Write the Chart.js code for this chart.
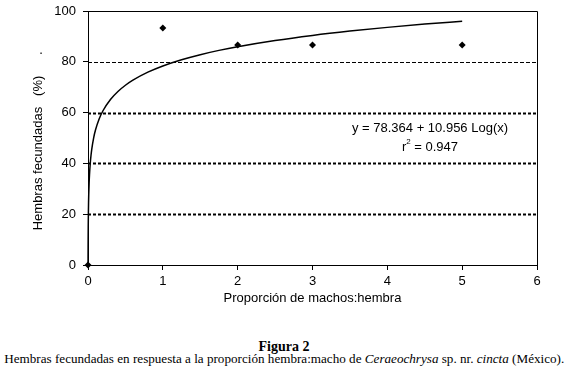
<!DOCTYPE html>
<html>
<head>
<meta charset="utf-8">
<script src="https://cdn.jsdelivr.net/npm/chart.js@4"></script>
<style>
  html, body { margin: 0; padding: 0; background: #fff; }
  #wrap { position: relative; width: 568px; height: 367px; overflow: hidden; }
  #chartBox { position: absolute; left: 0; top: 0; width: 568px; height: 310px; }
  .cap { position: absolute; left: 0; width: 568px; text-align: center; font-family: "Liberation Serif", "Times New Roman", serif; color: #000; white-space: nowrap; }
  #cap1 { top: 339px; font-size: 14px; font-weight: bold; line-height: 16px; }
  #cap2 { top: 351px; font-size: 13px; line-height: 16px; }
  #cap2 span.inner { display: inline-block; transform-origin: center; }
</style>
</head>
<body>
<div id="wrap">
  <div id="chartBox"><canvas id="c" width="568" height="310"></canvas></div>
  <div class="cap" id="cap1">Figura 2</div>
  <div class="cap" id="cap2"><span class="inner" id="cap2in">Hembras fecundadas en respuesta a la proporción hembra:macho de <i>Ceraeochrysa</i> sp. nr. <i>cincta</i> (México).</span></div>
</div>
<script>
// ---- Data ----
const xValues = [0, 1, 2, 3, 5];
const yValues = [0, 93.3, 86.6, 86.6, 86.6];
const xTicks = [0, 1, 2, 3, 4, 5, 6];
const yTicks = [0, 20, 40, 60, 80, 100];
const trendA = 78.364;
const trendB = 10.956;
const trendX = [0.0008, 0.001, 0.0015, 0.002, 0.003, 0.005, 0.0075, 0.01, 0.015, 0.02, 0.03, 0.04, 0.05, 0.075, 0.1, 0.15, 0.2, 0.3, 0.4, 0.5, 0.6, 0.8, 1, 1.25, 1.5, 1.75, 2, 2.5, 3, 3.5, 4, 4.5, 5];
const equationText = "y = 78.364 + 10.956 Log(x)";
const r2Text = "0.947";
const xTitle = "Proporción de machos:hembra";
const yTitle = "Hembras fecundadas   (%)";

const points = xValues.map((x, i) => ({ x: x, y: yValues[i] }));
const trend = trendX.map(x => ({ x: x, y: trendA + trendB * Math.log(x) }));

const FONT = "'Liberation Sans', Arial, sans-serif";

const decor = {
  id: 'decor',
  beforeDatasetsDraw(chart) {
    const { ctx, chartArea: a, scales } = chart;
    const ys = scales.y;
    ctx.save();
    ctx.strokeStyle = '#000';
    yTicks.forEach(v => {
      if (v === 0 || v === 100) return;
      const py = Math.round(ys.getPixelForValue(v)) + 0.5;
      if (v === 80) { ctx.lineWidth = 1; ctx.setLineDash([4, 2]); }
      else { ctx.lineWidth = 2; ctx.setLineDash([3, 2]); }
      ctx.beginPath();
      ctx.moveTo(a.left, py);
      ctx.lineTo(a.right, py);
      ctx.stroke();
    });
    ctx.setLineDash([]);
    ctx.lineWidth = 1;
    ctx.beginPath();
    ctx.moveTo(a.left, Math.round(a.top) + 0.5);
    ctx.lineTo(Math.round(a.right) + 0.5, Math.round(a.top) + 0.5);
    ctx.lineTo(Math.round(a.right) + 0.5, a.bottom);
    ctx.stroke();
    ctx.restore();
  },
  afterDraw(chart) {
    const { ctx } = chart;
    ctx.save();
    ctx.fillStyle = '#000';
    ctx.translate(38, 153);
    ctx.rotate(-Math.PI / 2);
    ctx.font = "13px " + FONT;
    ctx.textAlign = 'center';
    ctx.textBaseline = 'middle';
    ctx.fillText(yTitle, 0, 0);
    ctx.restore();

    ctx.save();
    ctx.fillStyle = '#000';
    ctx.font = "13px " + FONT;
    ctx.textAlign = 'center';
    ctx.textBaseline = 'middle';
    ctx.fillText('.', 41, 50);
    const cx = 430;
    ctx.fillText(equationText, cx, 128);
    const pre = "r", post = " = " + r2Text;
    const wPre = ctx.measureText(pre).width;
    const wPost = ctx.measureText(post).width;
    ctx.font = "8px " + FONT;
    const wSup = ctx.measureText("2").width;
    const total = wPre + wSup + wPost;
    const sx = cx - total / 2;
    ctx.textAlign = 'left';
    ctx.font = "13px " + FONT;
    ctx.fillText(pre, sx, 147);
    ctx.font = "8px " + FONT;
    ctx.fillText("2", sx + wPre, 142);
    ctx.font = "13px " + FONT;
    ctx.fillText(post, sx + wPre + wSup, 147);
    ctx.restore();
  }
};

new Chart(document.getElementById('c'), {
  type: 'scatter',
  data: {
    datasets: [
      {
        label: 'Trend',
        type: 'line',
        data: trend,
        borderColor: '#000',
        borderWidth: 1.5,
        pointRadius: 0,
        fill: false,
        tension: 0.4,
        cubicInterpolationMode: 'monotone',
        clip: false
      },
      {
        label: 'Datos',
        data: points,
        pointStyle: 'rectRot',
        pointRadius: 3.5,
        backgroundColor: '#000',
        borderColor: '#000',
        borderWidth: 0,
        clip: false
      }
    ]
  },
  options: {
    responsive: false,
    animation: false,
    layout: { padding: { left: 0, right: 31, top: 11, bottom: 0 } },
    plugins: { legend: { display: false }, tooltip: { enabled: false } },
    scales: {
      x: {
        type: 'linear',
        min: 0, max: 6,
        afterBuildTicks(s) { s.ticks = xTicks.map(v => ({ value: v })); },
        afterFit(s) { s.height = 45; s.paddingLeft = 0; s.paddingRight = 0; },
        ticks: { color: '#000', font: { family: FONT, size: 13 }, padding: 4, maxRotation: 0 },
        grid: { drawOnChartArea: false, drawTicks: true, tickLength: 5, tickColor: '#000', tickWidth: 1, color: '#000' },
        border: { display: true, color: '#000', width: 1 },
        title: { display: true, text: xTitle, color: '#000', font: { family: FONT, size: 13 }, padding: { top: 0, bottom: 4 } }
      },
      y: {
        type: 'linear',
        min: 0, max: 100,
        afterBuildTicks(s) { s.ticks = yTicks.map(v => ({ value: v })); },
        afterFit(s) { s.width = 88; s.paddingTop = 0; s.paddingBottom = 0; },
        ticks: { color: '#000', font: { family: FONT, size: 13 }, padding: 7 },
        grid: { drawOnChartArea: false, drawTicks: true, tickLength: 5, tickColor: '#000', tickWidth: 1, color: '#000' },
        border: { display: true, color: '#000', width: 1 }
      }
    }
  },
  plugins: [decor]
});

const inner = document.getElementById('cap2in');
const w = inner.getBoundingClientRect().width;
if (w > 0) inner.style.transform = 'scaleX(' + (560 / w) + ')';
</script>
</body>
</html>
